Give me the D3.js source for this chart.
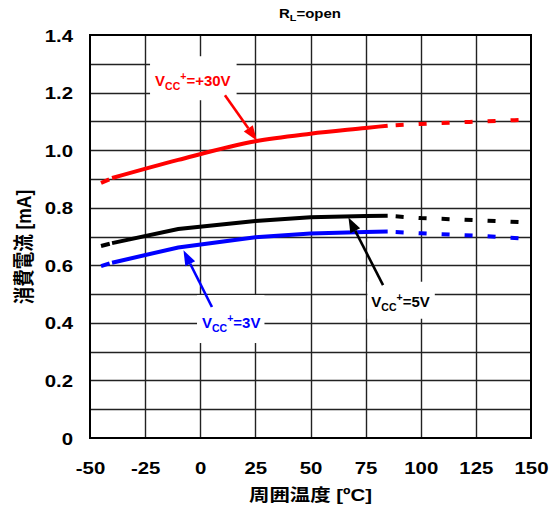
<!DOCTYPE html>
<html>
<head>
<meta charset="utf-8">
<script src="https://cdn.jsdelivr.net/npm/d3@7"></script>
<style>
  body { margin: 0; background: #fff; }
  text { font-family: "Liberation Sans", Arial, "Noto Sans CJK JP", sans-serif; font-weight: bold; }
</style>
</head>
<body>
<svg id="chart" width="556" height="510"></svg>
<script>
// Axis ticks and grid
const xTicks = [-50, -25, 0, 25, 50, 75, 100, 125, 150];
const xTickLabels = ["-50", "-25", "0", "25", "50", "75", "100", "125", "150"];
const yTicks = [0, 0.2, 0.4, 0.6, 0.8, 1.0, 1.2, 1.4];
const yTickLabels = ["0", "0.2", "0.4", "0.6", "0.8", "1.0", "1.2", "1.4"];
const yGrid = [0.1, 0.2, 0.3, 0.4, 0.5, 0.6, 0.7, 0.8, 0.9, 1.0, 1.1, 1.2, 1.3];

// Temperature points (°C): short extrapolated lead-in, measured range, dashed extension
const tempHead = [-45, -40];
const tempBody = [-40, -10, 25, 50, 75, 85];
const tempTail = [85, 100, 125, 150];

// Supply current [mA] for each supply voltage
const i30Head = [0.886, 0.903];
const i30Body = [0.903, 0.966, 1.031, 1.057, 1.077, 1.085];
const i30Tail = [1.085, 1.091, 1.099, 1.106];

const i5Head = [0.667, 0.677];
const i5Body = [0.677, 0.726, 0.754, 0.767, 0.771, 0.772];
const i5Tail = [0.772, 0.764, 0.757, 0.748];

const i3Head = [0.597, 0.609];
const i3Body = [0.609, 0.662, 0.697, 0.710, 0.716, 0.717];
const i3Tail = [0.717, 0.711, 0.703, 0.691];

const series = [
  { name: "30V", color: "#ff0000", head: i30Head, body: i30Body, tail: i30Tail, smooth: true },
  { name: "5V",  color: "#000000", head: i5Head,  body: i5Body,  tail: i5Tail,  smooth: false },
  { name: "3V",  color: "#0000ff", head: i3Head,  body: i3Body,  tail: i3Tail,  smooth: false }
];

// Callout labels: text start / baseline, arrow from -> to (data units), white box padding
const callouts = [
  { color: "#ff0000", rest: "=+30V", at: [-20.5, 1.222], from: [11.2, 1.191], to: [25.7, 1.033], pad: [5, 14, 6, 8] },
  { color: "#000000", rest: "=5V",   at: [77.6, 0.456],  from: [82.9, 0.531], to: [67.2, 0.766], pad: [4, 9, 5, 6] },
  { color: "#0000ff", rest: "=3V",   at: [0.8, 0.382],   from: [5.3, 0.455],  to: [-7.6, 0.652], pad: [5, 17, 4, 9] }
];

const svg = d3.select("#chart");
const W = 556, H = 510;
const plot = { left: 90, right: 531, top: 35, bottom: 438 };
const SX = 1.2; // horizontal stretch of axis lettering

const x = d3.scaleLinear().domain([-50, 150]).range([plot.left, plot.right]);
const y = d3.scaleLinear().domain([0, 1.4]).range([plot.bottom, plot.top]);

svg.append("rect").attr("width", W).attr("height", H).attr("fill", "#fff");

// Grid
const grid = svg.append("g").attr("stroke", "#222").attr("stroke-width", 1.4);
grid.selectAll("line.h").data(yGrid).join("line")
  .attr("x1", plot.left).attr("x2", plot.right)
  .attr("y1", d => Math.round(y(d)) + 0.5).attr("y2", d => Math.round(y(d)) + 0.5);
grid.selectAll("line.v").data(xTicks.slice(1, -1)).join("line")
  .attr("y1", plot.top).attr("y2", plot.bottom)
  .attr("x1", d => Math.round(x(d)) + 0.5).attr("x2", d => Math.round(x(d)) + 0.5);

// Frame
svg.append("rect")
  .attr("x", plot.left).attr("y", plot.top)
  .attr("width", plot.right - plot.left).attr("height", plot.bottom - plot.top)
  .attr("fill", "none").attr("stroke", "#000").attr("stroke-width", 2);

// Axis labels through d3 axes (lines hidden, text restyled)
const xAxis = svg.append("g").attr("transform", `translate(0,${plot.bottom})`)
  .call(d3.axisBottom(x).tickValues(xTicks).tickSize(0).tickPadding(0)
    .tickFormat((d, i) => xTickLabels[i]));
xAxis.select(".domain").remove();
xAxis.selectAll(".tick text")
  .attr("y", 0).attr("dy", null)
  .attr("font-size", 17).attr("fill", "#000")
  .attr("font-family", null)
  .attr("transform", `translate(0,36) scale(${SX},1)`);

const yAxis = svg.append("g").attr("transform", `translate(73,0)`)
  .call(d3.axisLeft(y).tickValues(yTicks).tickSize(0).tickPadding(0)
    .tickFormat((d, i) => yTickLabels[i]));
yAxis.select(".domain").remove();
yAxis.selectAll(".tick text")
  .attr("x", 0).attr("dy", null).attr("y", 0)
  .attr("font-size", 17).attr("fill", "#000")
  .attr("font-family", null)
  .attr("text-anchor", "end")
  .attr("transform", `translate(0,6) scale(${SX},1)`);

// Axis titles
svg.append("text")
  .attr("transform", `translate(${(plot.left + plot.right) / 2},501) scale(${SX},1)`)
  .attr("text-anchor", "middle").attr("font-size", 17)
  .text("周囲温度 [ºC]");

svg.append("text")
  .attr("transform", `translate(31,247) scale(${SX},1) rotate(-90)`)
  .attr("text-anchor", "middle").attr("font-size", 17.5)
  .text("消費電流 [mA]");

// Condition note above the plot
const note = svg.append("text")
  .attr("transform", `translate(310,18) scale(${SX},1)`)
  .attr("text-anchor", "middle").attr("font-size", 12.5);
note.append("tspan").text("R");
note.append("tspan").attr("font-size", 9).attr("dy", 3).text("L");
note.append("tspan").attr("dy", -3).text("=open");

// Curves
const lineStraight = d3.line().x(d => x(d[0])).y(d => y(d[1]));
const lineSmooth = d3.line().x(d => x(d[0])).y(d => y(d[1])).curve(d3.curveMonotoneX);
const curves = svg.append("g").attr("fill", "none").attr("stroke-width", 4).attr("stroke-linecap", "butt");
series.forEach(s => {
  const ln = s.smooth ? lineSmooth : lineStraight;
  curves.append("path")
    .attr("d", ln(d3.zip(tempHead, s.head)))
    .attr("stroke", s.color).attr("stroke-dasharray", "9,4");
  curves.append("path")
    .attr("d", ln(d3.zip(tempBody, s.body)))
    .attr("stroke", s.color);
  curves.append("path")
    .attr("d", ln(d3.zip(tempTail, s.tail)))
    .attr("stroke", s.color).attr("stroke-dasharray", "8,15").attr("stroke-dashoffset", -8);
});

// Callouts: white box, label, arrow
callouts.forEach(c => {
  const g = svg.append("g");
  const box = g.append("rect").attr("fill", "#fff");
  const t = g.append("text")
    .attr("x", x(c.at[0])).attr("y", y(c.at[1]))
    .attr("font-size", 15).attr("fill", c.color);
  t.append("tspan").text("V");
  t.append("tspan").attr("font-size", 10.5).attr("dy", 4).text("CC");
  t.append("tspan").attr("font-size", 10.5).attr("dy", -10).text("+");
  t.append("tspan").attr("dy", 6).text(c.rest);
  const bb = t.node().getBBox();
  const [pl, pt, pr, pb] = c.pad;
  box.attr("x", bb.x - pl).attr("y", bb.y - pt)
    .attr("width", bb.width + pl + pr).attr("height", bb.height + pt + pb);

  const x1 = x(c.from[0]), y1 = y(c.from[1]);
  const x2 = x(c.to[0]), y2 = y(c.to[1]);
  const ang = Math.atan2(y2 - y1, x2 - x1);
  const hl = 15, hw = 5.5;
  const bx = x2 - hl * Math.cos(ang), by = y2 - hl * Math.sin(ang);
  svg.append("line")
    .attr("x1", x1).attr("y1", y1).attr("x2", bx).attr("y2", by)
    .attr("stroke", c.color).attr("stroke-width", 2.6);
  svg.append("path")
    .attr("d", `M${x2},${y2}L${bx + hw * Math.sin(ang)},${by - hw * Math.cos(ang)}L${bx - hw * Math.sin(ang)},${by + hw * Math.cos(ang)}Z`)
    .attr("fill", c.color);
});
</script>
</body>
</html>
